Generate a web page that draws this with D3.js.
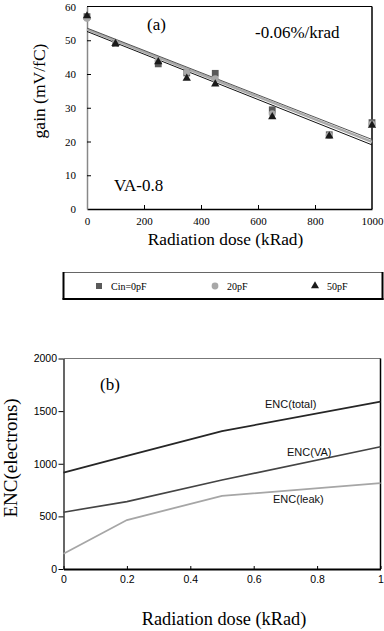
<!DOCTYPE html>
<html><head><meta charset="utf-8">
<script src="https://cdn.jsdelivr.net/npm/d3@7"></script>
<style>body{margin:0;background:#fff}svg{display:block}</style>
</head><body>
<svg id="c" width="384" height="631"></svg>
<script>
// ---- panel (a) data ----
const doses = [0, 100, 250, 350, 450, 650, 850, 1000];
const gain0pF = [57, 49, 43, 40.3, 40.2, 29.4, 22, 25.6];
const gain20pF = [56.5, 49.2, 44, 40.5, 38.6, 28.2, 21.8, 25.2];
const gain50pF = [57.2, 49, 43.6, 38.7, 37, 27.3, 21.6, 24.8];
const fitX = [0, 1000];
const fit0pF = [53.6, 20.6];
const fit20pF = [53.2, 19.9];
const fit50pF = [52.6, 19.0];
const aXTicks = [0, 200, 400, 600, 800, 1000];
const aYTicks = [0, 10, 20, 30, 40, 50, 60];
const legendLabels = ["Cin=0pF", "20pF", "50pF"];

// ---- panel (b) data ----
const encDose = [0, 0.2, 0.5, 1];
const encTotal = [915, 1074, 1310, 1590];
const encVA = [540, 640, 845, 1162];
const encLeak = [145, 465, 695, 815];
const bXTicks = [0, 0.2, 0.4, 0.6, 0.8, 1];
const bYTicks = [0, 500, 1000, 1500, 2000];
const encLabels = ["ENC(total)", "ENC(VA)", "ENC(leak)"];

const svg = d3.select("#c");
const serif = "Liberation Serif, Times New Roman, DejaVu Serif, serif";
const sans = "Liberation Sans, Arial, sans-serif";

// ================= Panel (a) =================
const ax = d3.scaleLinear().domain([0, 1000]).range([87, 372]);
const ay = d3.scaleLinear().domain([0, 60]).range([209, 6.5]);

// frame
svg.append("line").attr("x1", ax(0)).attr("x2", ax(1000)).attr("y1", ay(60)).attr("y2", ay(60)).attr("stroke", "#000").attr("stroke-width", 1);
svg.append("line").attr("x1", ax(1000)).attr("x2", ax(1000)).attr("y1", ay(60)).attr("y2", ay(0)).attr("stroke", "#000").attr("stroke-width", 1.5);

const gxa = svg.append("g").attr("transform", `translate(0,${ay(0)})`)
  .call(d3.axisBottom(ax).tickValues(aXTicks).tickFormat(d3.format("d")).tickSize(-4).tickPadding(8).tickSizeOuter(0));
gxa.select(".domain").attr("stroke", "#000").attr("stroke-width", 1.6);
gxa.selectAll("text").style("font-family", serif).attr("font-size", 11).attr("fill", "#000");

const gya = svg.append("g").attr("transform", `translate(${ax(0)},0)`)
  .call(d3.axisLeft(ay).tickValues(aYTicks).tickFormat(d3.format("d")).tickSize(-4).tickPadding(11).tickSizeOuter(0));
gya.select(".domain").attr("stroke", "#888").attr("stroke-width", 1.5);
gya.selectAll("text").style("font-family", serif).attr("font-size", 11).attr("fill", "#000");
gya.selectAll(".tick").filter(d => d === 0 || d === 60).select("line").remove();
gxa.selectAll(".tick").filter(d => d === 0 || d === 1000).select("line").remove();

// fit lines
const fits = [
  { v: fit20pF, c: "#aaa", w: 2.4 },
  { v: fit0pF, c: "#555", w: 1 },
  { v: fit50pF, c: "#111", w: 1 }
];
fits.forEach(f => {
  svg.append("line")
    .attr("x1", ax(fitX[0])).attr("y1", ay(f.v[0]))
    .attr("x2", ax(fitX[1])).attr("y2", ay(f.v[1]))
    .attr("stroke", f.c).attr("stroke-width", f.w);
});

// markers
const sqSym = d3.symbol().type(d3.symbolSquare).size(46);
const ciSym = d3.symbol().type(d3.symbolCircle).size(40);
const trSym = d3.symbol().type(d3.symbolTriangle).size(30);
svg.append("g").selectAll("path").data(doses).join("path")
  .attr("d", sqSym).attr("transform", (d, i) => `translate(${ax(d)},${ay(gain0pF[i])})`).attr("fill", "#5a5a5a");
svg.append("g").selectAll("path").data(doses).join("path")
  .attr("d", ciSym).attr("transform", (d, i) => `translate(${ax(d)},${ay(gain20pF[i])})`).attr("fill", "#a8a8a8");
svg.append("g").selectAll("path").data(doses).join("path")
  .attr("d", trSym).attr("transform", (d, i) => `translate(${ax(d)},${ay(gain50pF[i])})`).attr("fill", "#1a1a1a");

// texts
function txt(x, y, s, size, fam, anchor) {
  return svg.append("text").attr("x", x).attr("y", y).style("font-family", fam)
    .attr("font-size", size).attr("text-anchor", anchor || "start").text(s);
}
txt(147, 30, "(a)", 17, serif);
txt(255, 38, "-0.06%/krad", 17, serif);
txt(114, 191, "VA-0.8", 17, serif);
txt(225.5, 245, "Radiation dose (kRad)", 17.3, serif, "middle");
svg.append("text").attr("transform", "translate(45,91) rotate(-90)").attr("text-anchor", "middle").style("font-family", serif).attr("font-size", 17.5).text("gain (mV/fC)");

// legend
svg.append("line").attr("x1", 63).attr("x2", 383).attr("y1", 272.5).attr("y2", 272.5).attr("stroke", "#666").attr("stroke-width", 1);
svg.append("line").attr("x1", 63.5).attr("x2", 63.5).attr("y1", 272).attr("y2", 299.5).attr("stroke", "#000").attr("stroke-width", 2);
svg.append("line").attr("x1", 62.5).attr("x2", 383.5).attr("y1", 299).attr("y2", 299).attr("stroke", "#000").attr("stroke-width", 2);
svg.append("line").attr("x1", 382.5).attr("x2", 382.5).attr("y1", 272).attr("y2", 300).attr("stroke", "#000").attr("stroke-width", 2);
const legX = [99, 215, 315];
const legSyms = [
  { s: d3.symbol().type(d3.symbolSquare).size(36), c: "#5a5a5a" },
  { s: d3.symbol().type(d3.symbolCircle).size(36), c: "#a8a8a8" },
  { s: d3.symbol().type(d3.symbolTriangle).size(28), c: "#1a1a1a" }
];
legendLabels.forEach((t, i) => {
  svg.append("path").attr("d", legSyms[i].s).attr("transform", `translate(${legX[i]},286)`).attr("fill", legSyms[i].c);
  txt(legX[i] + 12, 289.5, t, 10, serif);
});

// ================= Panel (b) =================
const bx = d3.scaleLinear().domain([0, 1]).range([63.5, 380.5]);
const by = d3.scaleLinear().domain([0, 2000]).range([569, 358.5]);

svg.append("line").attr("x1", bx(0)).attr("x2", bx(1)).attr("y1", by(2000)).attr("y2", by(2000)).attr("stroke", "#777").attr("stroke-width", 1.2);
svg.append("line").attr("x1", bx(1)).attr("x2", bx(1)).attr("y1", by(2000)).attr("y2", by(0)).attr("stroke", "#000").attr("stroke-width", 1.5);

const gxb = svg.append("g").attr("transform", `translate(0,${by(0)})`)
  .call(d3.axisBottom(bx).tickValues(bXTicks).tickFormat(d => d === 0 ? "0" : d === 1 ? "1" : d3.format(".1f")(d)).tickSize(-3).tickPadding(7).tickSizeOuter(0));
gxb.select(".domain").attr("stroke", "#000").attr("stroke-width", 2.2);
gxb.selectAll("text").style("font-family", sans).attr("font-size", 10.5).attr("fill", "#000");

const gyb = svg.append("g").attr("transform", `translate(${bx(0)},0)`)
  .call(d3.axisLeft(by).tickValues(bYTicks).tickFormat(d3.format("d")).tickSize(5).tickPadding(1.5).tickSizeOuter(0));
gyb.select(".domain").attr("stroke", "#000").attr("stroke-width", 1.2);
gyb.selectAll("text").style("font-family", sans).attr("font-size", 10.5).attr("fill", "#000");

const encSeries = [
  { v: encLeak, c: "#a6a6a6", w: 1.8 },
  { v: encVA, c: "#444", w: 1.6 },
  { v: encTotal, c: "#262626", w: 1.8 }
];
const lineB = d3.line().x((d, i) => bx(encDose[i])).y(d => by(d));
encSeries.forEach(s => {
  svg.append("path").attr("d", lineB(s.v)).attr("fill", "none").attr("stroke", s.c).attr("stroke-width", s.w);
});

const encLabPos = [[265, 408], [287, 456], [273, 503]];
encLabels.forEach((t, i) => {
  txt(encLabPos[i][0], encLabPos[i][1], t, 11, sans).attr("fill", "#111");
});
txt(100, 390, "(b)", 17, serif);
txt(224, 625, "Radiation dose (kRad)", 18.3, serif, "middle");
svg.append("text").attr("transform", "translate(17,458) rotate(-90)").attr("text-anchor", "middle").style("font-family", serif).attr("font-size", 19).text("ENC(electrons)");
</script>
</body></html>
